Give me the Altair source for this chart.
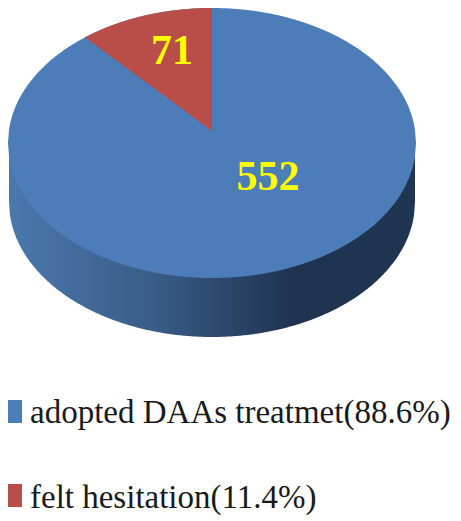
import numpy as np
import pandas as pd
import altair as alt

categories = ["adopted DAAs treatmet(88.6%)", "felt hesitation(11.4%)"]
counts = [552, 71]
slice_colors = ["#4d7db8", "#b94d4a"]
text_colors = ["#ffff00", "#ffff00"]

W, H = 445, 513
OX, OY = 8, 8          # page margin
cx, cy, rx, ry = 212, 143, 204, 135
apex_y = 131
depth = 59
persp = 0.915

xs = np.linspace(cx - rx, cx + rx, 401)
half = ry * np.sqrt(np.clip(1 - ((xs - cx) / rx) ** 2, 0, 1))

# top face
top = pd.DataFrame({"x": xs - OX, "y": cy - half - OY, "y2": cy + half - OY})

# side wall
side_rx = rx - 1
xs2 = np.linspace(cx - side_rx, cx + side_rx, 401)
h_inner = ry * np.sqrt(np.clip(1 - ((xs2 - cx) / side_rx) ** 2, 0, 1))
side = pd.DataFrame({"x": xs2 - OX, "y": cy - OY, "y2": cy + depth + h_inner - OY})

# red wedge: its sweep comes from the counts
share = counts[1] / sum(counts)
ang = np.arctan(np.tan(2 * np.pi * share) * persp)
ex = cx - rx * np.sin(ang)
ey = cy - ry * np.cos(ang)
wx = np.linspace(ex, cx, 120)
warc = cy - ry * np.sqrt(1 - ((wx - cx) / rx) ** 2)
wline = ey + (apex_y - ey) * (wx - ex) / (cx - ex)
wedge = pd.DataFrame({"x": wx - OX, "y": warc - OY, "y2": wline - OY})

labels = pd.DataFrame({
    "x": [268 - OX, 172 - OX],
    "y": [190 - OY, 64 - OY],
    "t": [str(c) for c in counts],
})
legend = pd.DataFrame({
    "x": [30 - OX, 30 - OX],
    "y": [423 - OY, 508 - OY],
    "sx": [0, 0],
    "sx2": [22 - OX, 22 - OX],
    "sy": [400 - OY, 484 - OY],
    "sy2": [423 - OY, 507 - OY],
    "t": categories,
    "c": slice_colors,
})

X = alt.Scale(domain=[0, W], range=[0, W])
Y = alt.Scale(domain=[H, 0], range=[H, 0])
ex_ = alt.X("x:Q", scale=X, axis=None)
ey_ = alt.Y("y:Q", scale=Y, axis=None)

grad = alt.Gradient(
    gradient="linear", x1=0, x2=1, y1=0, y2=0,
    stops=[
        alt.GradientStop(offset=0, color="#4a78ad"),
        alt.GradientStop(offset=0.35, color="#3a5d88"),
        alt.GradientStop(offset=0.7, color="#1e3350"),
        alt.GradientStop(offset=1, color="#1f3652"),
    ],
)

side_l = alt.Chart(side).mark_area(color=grad).encode(ex_, ey_, y2="y2:Q")
top_l = alt.Chart(top).mark_area(color=slice_colors[0]).encode(ex_, ey_, y2="y2:Q")
wedge_l = alt.Chart(wedge).mark_area(color=slice_colors[1]).encode(ex_, ey_, y2="y2:Q")
text_l = alt.Chart(labels).mark_text(
    font="Liberation Serif", fontWeight="bold", fontSize=42, color=text_colors[0],
    align="center", baseline="alphabetic",
).encode(ex_, ey_, text="t:N")
swatch_l = alt.Chart(legend).mark_rect(opacity=1).encode(
    x=alt.X("sx:Q", scale=X, axis=None), x2="sx2:Q",
    y=alt.Y("sy:Q", scale=Y, axis=None), y2="sy2:Q",
    color=alt.Color("c:N", scale=None),
)
legend_l = alt.Chart(legend).mark_text(
    font="Liberation Serif", fontSize=33, color="#1a1a1a", align="left", baseline="alphabetic"
).encode(ex_, ey_, text="t:N")

chart = alt.layer(side_l, top_l, wedge_l, text_l, swatch_l, legend_l).properties(
    width=W, height=H, padding=0, autosize=alt.AutoSizeParams(type="none"),
).configure_view(stroke=None)

chart.save("out.html", embed_options={"renderer": "svg", "actions": False})
